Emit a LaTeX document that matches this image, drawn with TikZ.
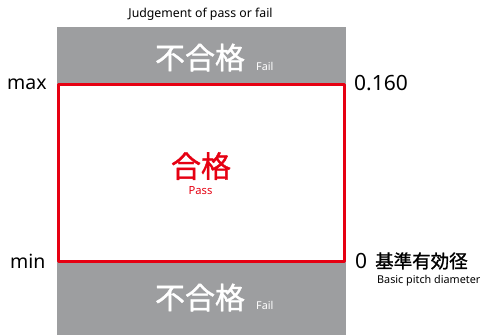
\documentclass[tikz,border=0pt]{standalone}
\usepackage{fontspec}
\setmainfont{Noto Sans}
\newfontfamily\jp[FakeBold=1.2]{Noto Sans CJK JP}
\definecolor{okred}{HTML}{E60012}
\definecolor{nggray}{HTML}{9D9EA0}
\tikzset{
	bigjp/.style={font=\jp\fontsize{30}{30}\selectfont},
	small/.style={font=\fontsize{10.8}{10.8}\selectfont, anchor=base west},
	limit/.style={font=\fontsize{19.5}{19.5}\selectfont, anchor=base west},
	value/.style={font=\fontsize{21}{21}\selectfont, anchor=base west},
}
\begin{document}
\begin{tikzpicture}[x=1pt, y=-1pt, inner sep=0pt, line join=round]
	\useasboundingbox (0,0) rectangle (485,335);
	\path
	(57,27) coordinate (G_1)
	(346,335) coordinate (G_2)
	(58.5,84.5) coordinate (R_1)
	(344,261.5) coordinate (R_2)
	;
	\fill[nggray] (G_1) rectangle (G_2);
	\filldraw[okred, fill=white, line width=3pt] (R_1) rectangle (R_2);
	\node[font=\fontsize{12.3}{12.3}\selectfont] (judge) at (200.5,14) {Judgement of pass or fail};
	% fail bands
	\node[bigjp, white] (ngtop) at (200,57.5) {不合格};
	\node[small, white] (failtop) at (256,70) {Fail};
	\node[bigjp, white] (ngbot) at (200,297.5) {不合格};
	\node[small, white] (failbot) at (256,309) {Fail};
	% pass
	\node[bigjp, okred] (ok) at (201,166) {合格};
	\node[font=\fontsize{11.2}{11.2}\selectfont, okred] (pass) at (200.5,191) {Pass};
	% limits
	\node[limit] (max) at (7,89) {max};
	\node[limit] (min) at (10,268) {min};
	\node[value] (upper) at (354,90) {0.160};
	\node[value] (lower) at (355,268) {0};
	\node[anchor=base west, font=\jp\fontsize{18.5}{18.5}\selectfont] (basic) at (375,268) {基準有効径};
	\node[small] (basiceng) at (377,283) {Basic pitch diameter};
\end{tikzpicture}
\end{document}
